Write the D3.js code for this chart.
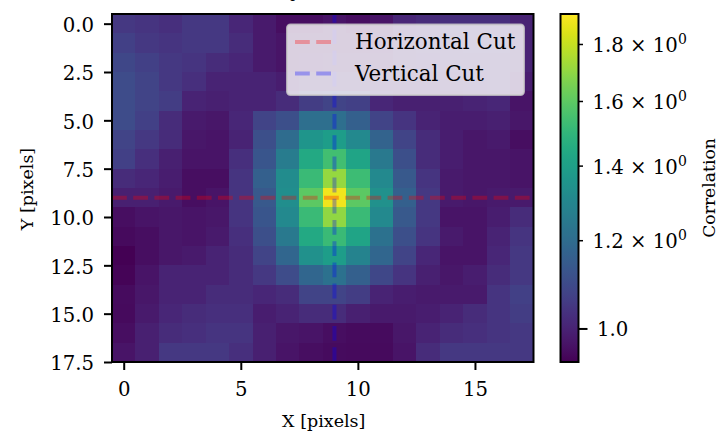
<!DOCTYPE html>
<html>
<head>
<meta charset="utf-8">
<script src="https://cdn.jsdelivr.net/npm/d3@7"></script>
<style>
  html, body { margin: 0; padding: 0; background: #fff; }
  svg { display: block; }
  text { font-family: "DejaVu Serif", serif; fill: #000; }
</style>
</head>
<body>
<div id="chart"></div>
<script>
// correlation map, one row per y pixel
const row00 = [1.05,1.04,1.03,1.05,1.05,1.01,.98,.96,.96,.97,.96,.97,1.01,1.02,1.03,1.03,1.03,1.00];
const row01 = [1.07,1.05,1.04,1.05,1.05,1.02,.98,.97,.97,.97,.97,.975,1.00,1.02,1.02,1.03,1.03,1.00];
const row02 = [1.09,1.07,1.05,1.04,1.02,1.01,.98,.97,.975,.98,.98,.98,1.00,1.01,1.02,1.02,1.02,1.00];
const row03 = [1.10,1.08,1.05,1.03,1.00,1.00,1.00,.99,1.00,1.00,1.00,.995,.995,.995,1.00,1.01,1.02,.99];
const row04 = [1.10,1.08,1.06,1.00,.995,1.00,1.00,1.02,1.06,1.08,1.07,1.01,.995,.995,.995,1.00,1.01,.97];
const row05 = [1.10,1.07,1.02,.98,.975,1.01,1.08,1.11,1.21,1.21,1.16,1.08,1.04,1.00,.99,.99,.995,.975];
const row06 = [1.08,1.05,1.02,.975,.97,1.00,1.11,1.20,1.36,1.39,1.31,1.17,1.08,1.02,.99,.975,.98,.96];
const row07 = [1.07,1.03,.995,.97,.97,1.03,1.13,1.26,1.44,1.54,1.42,1.25,1.11,1.02,.99,.975,.975,.97];
const row08 = [1.02,1.01,.99,.96,.96,1.04,1.16,1.32,1.52,1.71,1.53,1.31,1.14,1.04,.98,.975,.975,.97];
const row09 = [.995,.995,.98,.96,.97,1.04,1.14,1.33,1.60,1.89,1.60,1.34,1.16,1.05,.98,.975,.98,.98];
const row10 = [.96,.97,.975,.97,.975,1.04,1.13,1.31,1.52,1.70,1.52,1.31,1.14,1.05,.97,.97,.99,1.02];
const row11 = [.95,.96,.975,.97,.98,1.03,1.11,1.25,1.44,1.52,1.42,1.22,1.11,1.04,.98,.97,1.00,1.04];
const row12 = [.935,.96,.975,.98,1.00,1.02,1.08,1.18,1.34,1.39,1.29,1.18,1.08,1.01,.97,.97,1.01,1.05];
const row13 = [.94,.97,1.00,1.00,1.00,1.02,1.05,1.10,1.18,1.22,1.16,1.09,1.04,.995,.975,.99,1.02,1.05];
const row14 = [.955,.975,1.00,1.00,1.02,1.02,1.01,1.02,1.08,1.08,1.06,1.00,.99,.98,.98,.98,1.04,1.07];
const row15 = [.95,.98,1.01,1.02,1.03,1.03,.99,1.00,1.02,1.02,.995,.98,.98,.99,1.00,1.02,1.04,1.06];
const row16 = [.96,.995,1.02,1.03,1.04,1.04,.995,.975,.97,.96,.955,.955,.975,1.00,1.02,1.03,1.04,1.05];
const row17 = [.97,.995,1.05,1.05,1.05,1.03,.995,.97,.96,.955,.95,.95,.97,1.02,1.05,1.05,1.05,1.05];
const corrRows = [row00,row01,row02,row03,row04,row05,row06,row07,row08,row09,row10,row11,row12,row13,row14,row15,row16,row17];

const xTicks = [0, 5, 10, 15];
const yTicks = [0, 2.5, 5, 7.5, 10, 12.5, 15, 17.5];
const barMajorTicks = [1.0];
const barMinorTicks = [1.2, 1.4, 1.6, 1.8];
const cutH = {label: "Horizontal Cut", xs: [-0.5, 17.5], y: 9};
const cutV = {label: "Vertical Cut", ys: [17.5, -0.5], x: 9};
const corrExtent = [0.934, 1.917];

const width = 721, height = 432;
const plotL = 112, plotR = 533.5, plotT = 14, plotB = 362;

const svg = d3.select("#chart").append("svg").attr("width", width).attr("height", height);

const x_scale = d3.scaleLinear().domain([-0.5, 17.5]).range([plotL, plotR]);
const y_scale = d3.scaleLinear().domain([-0.5, 17.5]).range([plotT, plotB]);
const color_scale = d3.scaleSequentialLog(d3.interpolateViridis).domain(corrExtent);

// title is cut off by the top of the figure, only a descender shows
svg.append("text")
    .attr("x", (plotL + plotR) / 2)
    .attr("y", -2)
    .style("text-anchor", "middle")
    .style("font-size", "15px")
    .text("Spatial Cut");

// heatmap
const cells = corrRows.flatMap((row, r) => row.map((v, c) => ({r, c, v})));
svg.append("g").attr("shape-rendering", "crispEdges")
    .selectAll("rect")
    .data(cells)
    .enter()
    .append("rect")
    .attr("x", d => x_scale(d.c - 0.5))
    .attr("y", d => y_scale(d.r - 0.5))
    .attr("width", x_scale(1) - x_scale(0) + 0.5)
    .attr("height", y_scale(1) - y_scale(0) + 0.5)
    .attr("fill", d => color_scale(d.v));

// cuts
const dash = "14.8,6.4";
svg.append("line")
    .attr("x1", x_scale(cutH.xs[0])).attr("x2", x_scale(cutH.xs[1]))
    .attr("y1", y_scale(cutH.y)).attr("y2", y_scale(cutH.y))
    .attr("stroke", "red").attr("stroke-opacity", 0.3)
    .attr("stroke-width", 4).attr("stroke-dasharray", dash);
svg.append("line")
    .attr("x1", x_scale(cutV.x)).attr("x2", x_scale(cutV.x))
    .attr("y1", y_scale(cutV.ys[0])).attr("y2", y_scale(cutV.ys[1]))
    .attr("stroke", "blue").attr("stroke-opacity", 0.3)
    .attr("stroke-width", 4).attr("stroke-dasharray", dash);

// legend
const legendData = [
    {label: cutH.label, color: "red", alpha: 0.3, y: 42},
    {label: cutV.label, color: "blue", alpha: 0.3, y: 73.5}
];
const legend = svg.append("g");
legend.append("rect")
    .attr("x", 287).attr("y", 24.5).attr("width", 237).attr("height", 70.5)
    .attr("rx", 3.5).attr("ry", 3.5)
    .attr("fill", "#fff").attr("fill-opacity", 0.8)
    .attr("stroke", "#ccc").attr("stroke-opacity", 0.8).attr("stroke-width", 2);
legend.selectAll("line")
    .data(legendData)
    .enter()
    .append("line")
    .attr("x1", 295).attr("x2", 333)
    .attr("y1", d => d.y).attr("y2", d => d.y)
    .attr("stroke", d => d.color).attr("stroke-opacity", d => d.alpha)
    .attr("stroke-width", 4).attr("stroke-dasharray", dash);
legend.selectAll("text")
    .data(legendData)
    .enter()
    .append("text")
    .attr("x", 355)
    .attr("y", d => d.y + 7)
    .style("font-size", "21.4px")
    .text(d => d.label);

// axes
const x_axis = d3.axisBottom(x_scale).tickValues(xTicks).tickFormat(d3.format("d")).tickSize(8).tickPadding(12);
const y_axis = d3.axisLeft(y_scale).tickValues(yTicks).tickFormat(d3.format(".1f")).tickSize(8).tickPadding(10);
const gx = svg.append("g").attr("transform", `translate(0,${plotB})`).call(x_axis);
const gy = svg.append("g").attr("transform", `translate(${plotL},0)`).call(y_axis);
[gx, gy].forEach(g => {
    g.select(".domain").remove();
    g.selectAll(".tick line").attr("stroke", "#000").attr("stroke-width", 2);
    g.selectAll(".tick text").style("font-family", "DejaVu Serif").style("font-size", "19.7px");
});
gy.selectAll(".tick text").attr("dy", "0.4em");

svg.append("rect")
    .attr("x", plotL).attr("y", plotT).attr("width", plotR - plotL).attr("height", plotB - plotT)
    .attr("fill", "none").attr("stroke", "#000").attr("stroke-width", 2);

svg.append("text")
    .attr("x", (plotL + plotR) / 2 + 1).attr("y", 426.5)
    .style("text-anchor", "middle").style("font-size", "17.5px")
    .text("X [pixels]");
svg.append("text")
    .attr("transform", `translate(33,${(plotT + plotB) / 2 + 1}) rotate(-90)`)
    .style("text-anchor", "middle").style("font-size", "17.5px")
    .text("Y [pixels]");

// colorbar
const barL = 560.5, barR = 578.5;
const bar_scale = d3.scaleLog().domain(corrExtent).range([plotB, plotT]);
const defs = svg.append("defs");
const grad = defs.append("linearGradient").attr("id", "viridis-bar")
    .attr("x1", 0).attr("x2", 0).attr("y1", 1).attr("y2", 0);
grad.selectAll("stop")
    .data(d3.range(0, 1.001, 0.02))
    .enter()
    .append("stop")
    .attr("offset", d => d)
    .attr("stop-color", d => d3.interpolateViridis(d));
svg.append("rect")
    .attr("x", barL).attr("y", plotT).attr("width", barR - barL).attr("height", plotB - plotT)
    .attr("fill", "url(#viridis-bar)").attr("stroke", "#000").attr("stroke-width", 2);

const bar_g = svg.append("g");
bar_g.selectAll("line.major")
    .data(barMajorTicks)
    .enter()
    .append("line").attr("class", "major")
    .attr("x1", barR).attr("x2", barR + 9)
    .attr("y1", d => bar_scale(d)).attr("y2", d => bar_scale(d))
    .attr("stroke", "#000").attr("stroke-width", 2);
bar_g.selectAll("text.major")
    .data(barMajorTicks)
    .enter()
    .append("text").attr("class", "major")
    .attr("x", 597)
    .attr("y", d => bar_scale(d) + 7.5)
    .style("font-size", "19.7px")
    .text(d => d.toFixed(1));
bar_g.selectAll("line.minor")
    .data(barMinorTicks)
    .enter()
    .append("line").attr("class", "minor")
    .attr("x1", barR).attr("x2", barR + 4.5)
    .attr("y1", d => bar_scale(d)).attr("y2", d => bar_scale(d))
    .attr("stroke", "#000").attr("stroke-width", 1.5);
const minorText = bar_g.selectAll("text.minor")
    .data(barMinorTicks)
    .enter()
    .append("text").attr("class", "minor")
    .attr("x", 592.5)
    .attr("y", d => bar_scale(d) + 7.5)
    .style("font-size", "19.7px");
minorText.append("tspan").text(d => d.toFixed(1) + " \u00d7 10");
minorText.append("tspan").attr("dy", -8).style("font-size", "14px").text("0");

svg.append("text")
    .attr("transform", `translate(715,188) rotate(-90)`)
    .style("text-anchor", "middle").style("font-size", "17.2px")
    .text("Correlation");
</script>
</body>
</html>
